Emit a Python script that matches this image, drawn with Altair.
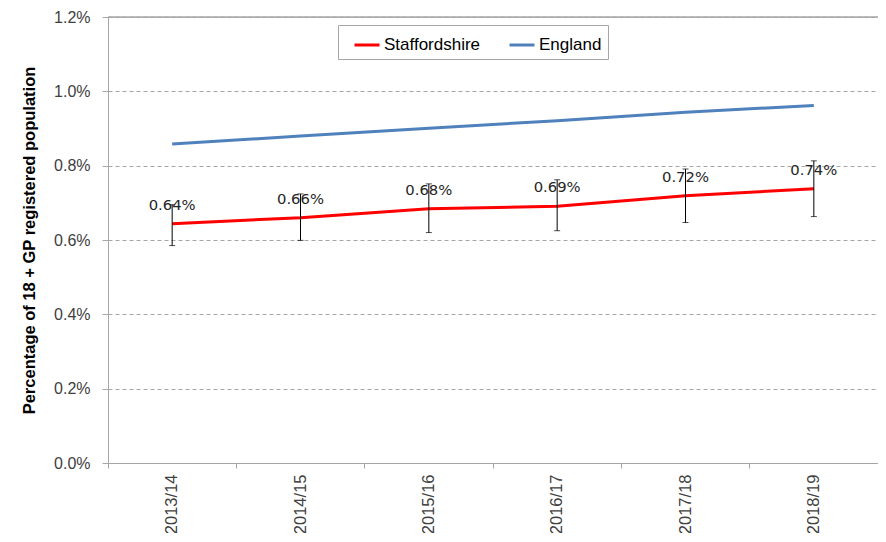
import altair as alt
import pandas as pd

years = ["2013/14", "2014/15", "2015/16", "2016/17", "2017/18", "2018/19"]
staffordshire = [0.00644, 0.00660, 0.00684, 0.00691, 0.00719, 0.00738]
staff_lower = [0.00585, 0.00599, 0.00620, 0.00625, 0.00647, 0.00663]
staff_upper = [0.00695, 0.00724, 0.00751, 0.00762, 0.00791, 0.00813]
england = [0.00858, 0.00880, 0.00901, 0.00921, 0.00944, 0.00962]
series_names = ["Staffordshire", "England"]
series_colors = ["#FF0000", "#4F81BD"]
y_ticks = [0.0, 0.002, 0.004, 0.006, 0.008, 0.010, 0.012]
y_max = 0.012

long_rows = []
for i, yr in enumerate(years):
    long_rows.append({"year": yr, "series": "Staffordshire", "value": staffordshire[i]})
    long_rows.append({"year": yr, "series": "England", "value": england[i]})
lines_df = pd.DataFrame(long_rows)
staff_df = pd.DataFrame({"year": years, "value": staffordshire, "lo": staff_lower, "hi": staff_upper})
top_df = pd.DataFrame({"top": [y_max]})

W, H = 770, 446

x_enc = alt.X(
    "year:N",
    sort=years,
    scale=alt.Scale(domain=years, paddingInner=0, paddingOuter=0),
    axis=alt.Axis(
        title=None,
        labelAngle=-90,
        labelAlign="right",
        labelBaseline="middle",
        labelFontSize=16.5,
        labelFont="Liberation Sans",
        labelColor="#404040",
        labelPadding=6,
        bandPosition=0,
        labelOffset=0,
        tickSize=5,
        tickColor="#A6A6A6",
        domainColor="#A6A6A6",
        grid=False,
    ),
)
y_scale = alt.Scale(domain=[0, y_max], nice=False, zero=True)
y_axis = alt.Axis(
    title="Percentage of 18 + GP registered population",
    titleFont="Liberation Sans",
    titleFontSize=16.5,
    titleFontWeight="bold",
    titleColor="#000000",
    titlePadding=16,
    values=y_ticks,
    format=".1%",
    labelFontSize=16,
    labelFont="Liberation Sans",
    labelColor="#404040",
    labelPadding=12,
    tickSize=6,
    tickColor="#A6A6A6",
    domainColor="#A6A6A6",
    grid=True,
    gridColor="#A6A6A6",
    gridDash=[4, 3],
    gridWidth=1,
)

top_rule = alt.Chart(top_df).mark_rule(color="#A6A6A6", strokeWidth=1.5).encode(
    y=alt.Y("top:Q", scale=y_scale, axis=y_axis)
)

lines = alt.Chart(lines_df).mark_line(strokeWidth=3).encode(
    x=x_enc,
    y=alt.Y("value:Q", scale=y_scale, axis=y_axis),
    color=alt.Color(
        "series:N",
        scale=alt.Scale(domain=series_names, range=series_colors),
        legend=alt.Legend(
            title=None,
            orient="none",
            legendX=230,
            legendY=8,
            direction="horizontal",
            symbolType="stroke",
            symbolStrokeWidth=3,
            symbolSize=625,
            symbolOffset=9,
            labelFontSize=17,
            labelFont="Liberation Sans",
            labelColor="#000000",
            labelOffset=3,
            columnPadding=18,
            padding=6,
            strokeColor="#A6A6A6",
            fillColor="#FFFFFF",
        ),
    ),
    order=alt.Order("year:N"),
)

err_rule = alt.Chart(staff_df).mark_rule(color="#000000", strokeWidth=1).encode(
    x=x_enc, y=alt.Y("lo:Q", scale=y_scale), y2="hi:Q"
)
cap_lo = alt.Chart(staff_df).mark_tick(color="#000000", size=6, thickness=1, orient="horizontal").encode(
    x=x_enc, y=alt.Y("lo:Q", scale=y_scale)
)
cap_hi = alt.Chart(staff_df).mark_tick(color="#000000", size=6, thickness=1, orient="horizontal").encode(
    x=x_enc, y=alt.Y("hi:Q", scale=y_scale)
)
labels = alt.Chart(staff_df).mark_text(
    dy=-18, fontSize=14.8, font="DejaVu Sans", color="#262626", baseline="middle"
).encode(
    x=x_enc, y=alt.Y("value:Q", scale=y_scale), text=alt.Text("value:Q", format=".2%")
)

chart = (
    alt.layer(top_rule, lines, err_rule, cap_lo, cap_hi, labels)
    .properties(
        width=W,
        height=H,
        autosize=alt.AutoSizeParams(type="none"),
        padding={"left": 100, "top": 9, "right": 0, "bottom": 70},
    )
    .configure_view(stroke=None)
    .configure(background="#FFFFFF")
)

chart.save("out.html", embed_options={"renderer": "svg", "actions": False})
